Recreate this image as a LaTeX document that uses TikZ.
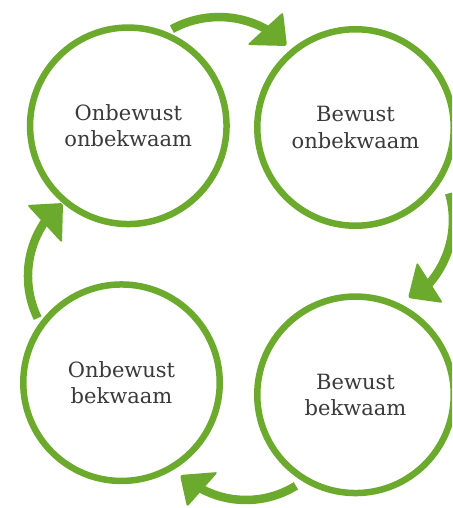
\documentclass[tikz,border=0pt]{standalone}
\usepackage{fontspec}
\setmainfont{DejaVu Serif}
\definecolor{grn}{RGB}{108,170,45}
\definecolor{txt}{RGB}{58,58,58}
\begin{document}
\begin{tikzpicture}[x=1pt,y=-1pt,
  stage/.style={circle, draw=grn, line width=6.5pt, minimum size=196.5pt,
    inner sep=0pt, align=center, text=txt,
    font=\fontsize{21}{26.5}\selectfont},
  flow/.style={draw=grn, line width=8.5pt, line cap=butt},
  head/.style={fill=grn, rounded corners=2.5pt}]
\useasboundingbox (0,0) rectangle (452,508);
\clip (0,0) rectangle (452,508);
\fill[white] (0,0) rectangle (452,508);

% stages
\node[stage] (uo) at (128.3,125.8) {Onbewust\\onbekwaam};
\node[stage] (bo) at (355.5,127.5) {Bewust\\onbekwaam};
\node[stage] (bb) at (355.5,394.8) {Bewust\\bekwaam};
\node[stage] (ub) at (121.5,382.7) {Onbewust\\bekwaam};

% arrow start points
\coordinate (s1) at (171.9,29.1);
\coordinate (s2) at (449.2,193.3);
\coordinate (s3) at (295.9,485.8);
\coordinate (s4) at (37.7,318.1);

% shafts
\draw[flow] (s1) arc[start angle=118.7, end angle=60, radius=98pt];
\draw[flow] (s2) arc[start angle=16, end angle=-43, radius=97pt];
\draw[flow] (s3) arc[start angle=-58.3, end angle=-120, radius=95pt];
\draw[flow] (s4) arc[start angle=206, end angle=143, radius=96pt];

% heads
\fill[head] (247,45) -- (283,12) -- (287,46) -- cycle;
\fill[head] (417,262) -- (443,303) -- (408,298) -- cycle;
\fill[head] (218,472) -- (187,507) -- (180,475) -- cycle;
\fill[head] (27,205) -- (63,203) -- (62,243) -- cycle;
\end{tikzpicture}
\end{document}
